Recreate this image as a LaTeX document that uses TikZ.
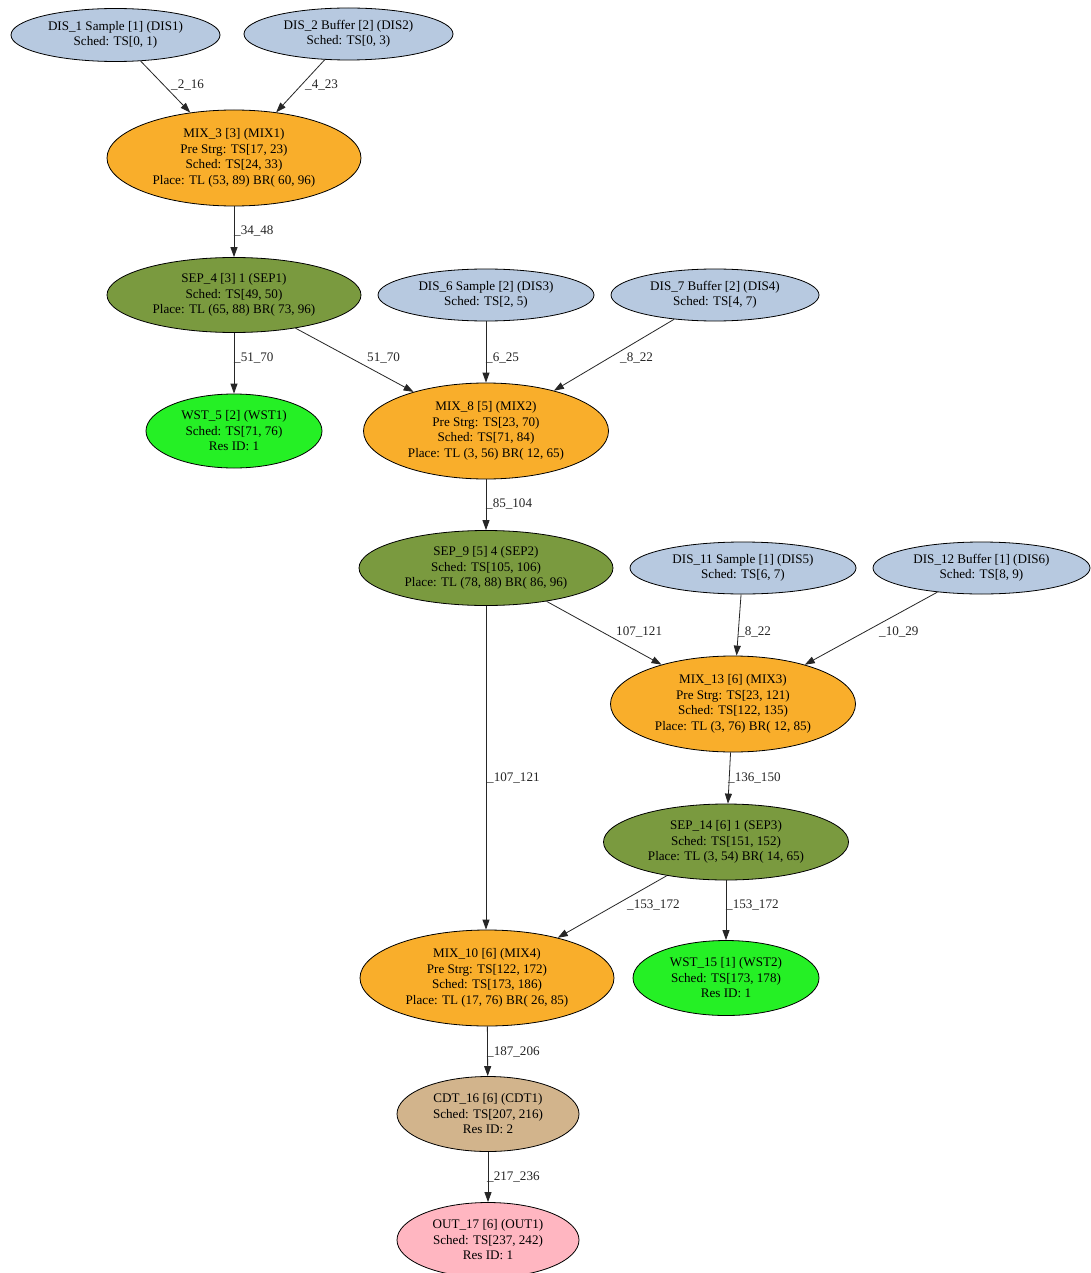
\documentclass[tikz,border=0pt]{standalone}
\usepackage{fontspec}
\setmainfont{Liberation Serif}
\usetikzlibrary{shapes.geometric,arrows.meta}
\definecolor{disblue}{HTML}{B7C9E0}
\definecolor{mixorange}{HTML}{F9AE2B}
\definecolor{sepolive}{HTML}{7A9A3F}
\definecolor{wstgreen}{HTML}{25F025}
\definecolor{cdttan}{HTML}{D2B48C}
\definecolor{outpink}{HTML}{FFB6C1}
\tikzset{
  base/.style={ellipse, draw=black, line width=0.8pt, inner sep=0pt, align=center,
    font=\fontsize{13.1}{15.5}\selectfont},
  dis/.style={base, fill=disblue},
  mix/.style={base, fill=mixorange},
  sep/.style={base, fill=sepolive},
  wst/.style={base, fill=wstgreen},
  cdt/.style={base, fill=cdttan},
  outn/.style={base, fill=outpink},
  conn/.style={draw=black!85, line width=0.8pt, -{Triangle[length=10pt,width=7pt]}},
  lbl/.style={anchor=west, inner sep=0pt, font=\fontsize{13.1}{15.5}\selectfont, text=black!85}
}
\begin{document}
\begin{tikzpicture}[x=1pt,y=-1pt]
\useasboundingbox (0,0) rectangle (1090,1273);
\fill[white] (0,0) rectangle (1090,1273);
% nodes
\node[dis, minimum width=209pt, minimum height=53pt] (d1) at (115.5,35) {DIS\_1 Sample [1] (DIS1)\\Sched: TS[0, 1)};
\node[dis, minimum width=209pt, minimum height=52pt] (d2) at (348.5,34) {DIS\_2 Buffer [2] (DIS2)\\Sched: TS[0, 3)};
\node[mix, minimum width=254pt, minimum height=96pt] (m3) at (234,158) {MIX\_3 [3] (MIX1)\\Pre Strg: TS[17, 23)\\Sched: TS[24, 33)\\Place: TL (53, 89) BR( 60, 96)};
\node[sep, minimum width=254pt, minimum height=75pt] (s4) at (234,295) {SEP\_4 [3] 1 (SEP1)\\Sched: TS[49, 50)\\Place: TL (65, 88) BR( 73, 96)};
\node[dis, minimum width=216pt, minimum height=52pt] (d6) at (486,295) {DIS\_6 Sample [2] (DIS3)\\Sched: TS[2, 5)};
\node[dis, minimum width=208pt, minimum height=52pt] (d7) at (715,295) {DIS\_7 Buffer [2] (DIS4)\\Sched: TS[4, 7)};
\node[wst, minimum width=176pt, minimum height=74pt] (w5) at (234,431) {WST\_5 [2] (WST1)\\Sched: TS[71, 76)\\Res ID: 1};
\node[mix, minimum width=245pt, minimum height=96pt] (m8) at (486,431) {MIX\_8 [5] (MIX2)\\Pre Strg: TS[23, 70)\\Sched: TS[71, 84)\\Place: TL (3, 56) BR( 12, 65)};
\node[sep, minimum width=254pt, minimum height=75pt] (s9) at (486,568) {SEP\_9 [5] 4 (SEP2)\\Sched: TS[105, 106)\\Place: TL (78, 88) BR( 86, 96)};
\node[dis, minimum width=226pt, minimum height=52pt] (d11) at (743,568) {DIS\_11 Sample [1] (DIS5)\\Sched: TS[6, 7)};
\node[dis, minimum width=217pt, minimum height=52pt] (d12) at (981.5,568) {DIS\_12 Buffer [1] (DIS6)\\Sched: TS[8, 9)};
\node[mix, minimum width=245pt, minimum height=96pt] (m13) at (733,704) {MIX\_13 [6] (MIX3)\\Pre Strg: TS[23, 121)\\Sched: TS[122, 135)\\Place: TL (3, 76) BR( 12, 85)};
\node[sep, minimum width=245pt, minimum height=76pt] (s14) at (726,842) {SEP\_14 [6] 1 (SEP3)\\Sched: TS[151, 152)\\Place: TL (3, 54) BR( 14, 65)};
\node[mix, minimum width=254pt, minimum height=96pt] (m10) at (487,978) {MIX\_10 [6] (MIX4)\\Pre Strg: TS[122, 172)\\Sched: TS[173, 186)\\Place: TL (17, 76) BR( 26, 85)};
\node[wst, minimum width=186pt, minimum height=75pt] (w15) at (726,978) {WST\_15 [1] (WST2)\\Sched: TS[173, 178)\\Res ID: 1};
\node[cdt, minimum width=182pt, minimum height=75pt] (c16) at (488,1114) {CDT\_16 [6] (CDT1)\\Sched: TS[207, 216)\\Res ID: 2};
\node[outn, minimum width=182pt, minimum height=75pt] (o17) at (488,1240) {OUT\_17 [6] (OUT1)\\Sched: TS[237, 242)\\Res ID: 1};
% connectors
\draw[conn] (d1) -- (m3);
\draw[conn] (d2) -- (m3);
\draw[conn] (m3) -- (s4);
\draw[conn] (s4) -- (w5);
\draw[conn] (s4) -- (m8);
\draw[conn] (d6) -- (m8);
\draw[conn] (d7) -- (m8);
\draw[conn] (m8) -- (s9);
\draw[conn] (s9) -- (m13);
\draw[conn] (d11) -- (m13);
\draw[conn] (d12) -- (m13);
\draw[conn] (s9.south) -- (m10.north -| s9.south);
\draw[conn] (m13) -- (s14);
\draw[conn] (s14) -- (m10);
\draw[conn] (s14) -- (w15);
\draw[conn] (m10) -- (c16);
\draw[conn] (c16) -- (o17);
% labels
\node[lbl] (l1) at (171,85) {\_2\_16};
\node[lbl] (l2) at (305,85) {\_4\_23};
\node[lbl] (l3) at (234,231) {\_34\_48};
\node[lbl] (l4) at (234,358) {\_51\_70};
\node[lbl] (l5) at (367,358) {51\_70};
\node[lbl] (l6) at (486,358) {\_6\_25};
\node[lbl] (l7) at (620,358) {\_8\_22};
\node[lbl] (l8) at (486,504) {\_85\_104};
\node[lbl] (l9) at (616,632) {107\_121};
\node[lbl] (l10) at (738,632) {\_8\_22};
\node[lbl] (l11) at (879,632) {\_10\_29};
\node[lbl] (l12) at (487,778) {\_107\_121};
\node[lbl] (l13) at (728,778) {\_136\_150};
\node[lbl] (l14) at (627,905) {\_153\_172};
\node[lbl] (l15) at (726,905) {\_153\_172};
\node[lbl] (l16) at (487,1052) {\_187\_206};
\node[lbl] (l17) at (487,1177) {\_217\_236};
\end{tikzpicture}
\end{document}
